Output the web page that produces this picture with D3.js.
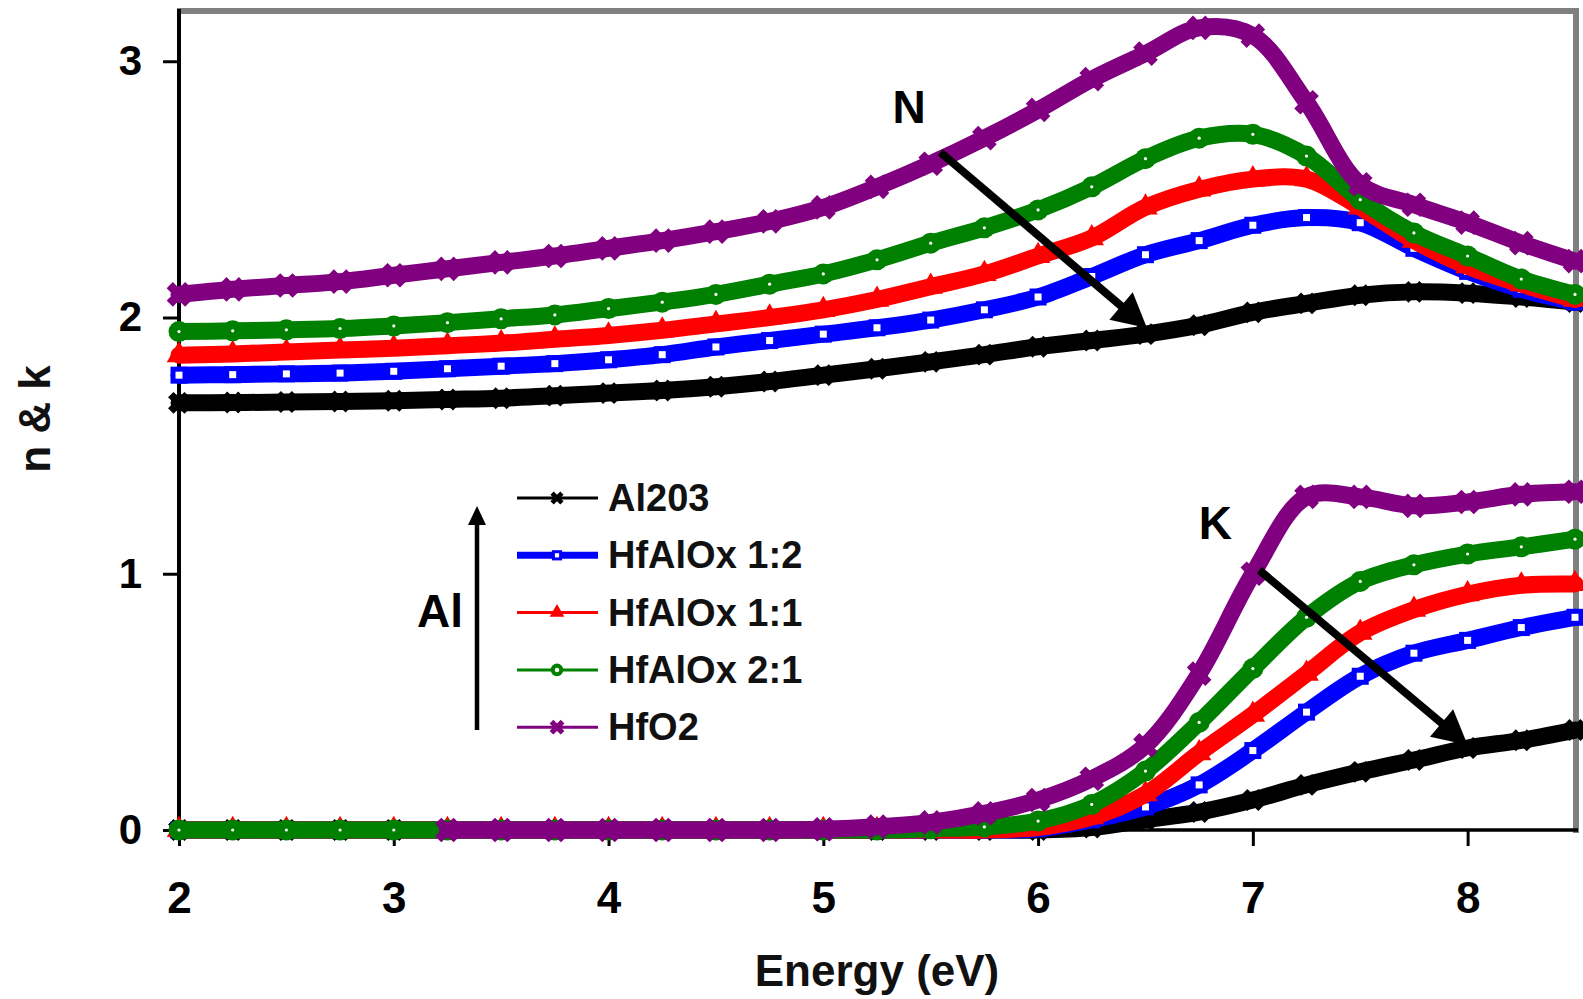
<!DOCTYPE html>
<html><head><meta charset="utf-8">
<script src="https://cdn.jsdelivr.net/npm/d3@7"></script>
<style>
body{margin:0;background:#fff}
svg{display:block}
text{font-family:"Liberation Sans",Arial,sans-serif;}
</style>
</head><body>
<svg id="c" width="1583" height="999"></svg>
<script>
// ---------- data ----------
const energy = [2.0,2.25,2.5,2.75,3.0,3.25,3.5,3.75,4.0,4.25,4.5,4.75,5.0,5.25,5.5,5.75,6.0,6.25,6.5,6.75,7.0,7.25,7.5,7.75,8.0,8.25,8.5];
const seriesNames = ["Al203","HfAlOx 1:2","HfAlOx 1:1","HfAlOx 2:1","HfO2"];
const seriesColors = ["#000000","#0000ff","#ff0000","#008000","#800080"];

// refractive index n
const nAl2O3 = [1.667,1.668,1.670,1.672,1.675,1.680,1.685,1.695,1.705,1.715,1.730,1.750,1.775,1.800,1.827,1.855,1.886,1.910,1.935,1.970,2.020,2.055,2.087,2.100,2.095,2.080,2.060];
const nHf12  = [1.775,1.777,1.780,1.783,1.790,1.800,1.810,1.820,1.835,1.855,1.885,1.910,1.935,1.960,1.990,2.030,2.080,2.160,2.245,2.300,2.360,2.390,2.370,2.270,2.180,2.110,2.060];
const nHf11  = [1.853,1.858,1.865,1.873,1.880,1.890,1.900,1.915,1.930,1.950,1.975,2.000,2.030,2.070,2.120,2.170,2.240,2.310,2.430,2.500,2.540,2.540,2.430,2.300,2.200,2.130,2.070];
const nHf21  = [1.945,1.948,1.952,1.957,1.967,1.980,1.995,2.010,2.035,2.060,2.090,2.130,2.170,2.225,2.290,2.350,2.420,2.510,2.620,2.700,2.715,2.630,2.460,2.330,2.240,2.150,2.090];
const nHfO2  = [2.090,2.110,2.125,2.140,2.165,2.190,2.215,2.240,2.270,2.300,2.335,2.375,2.430,2.510,2.600,2.700,2.810,2.930,3.030,3.130,3.100,2.840,2.520,2.440,2.370,2.290,2.220];

// extinction coefficient k
const kAl2O3 = [0,0,0,0,0,0,0,0,0,0,0,0,0,0,0,0,0,0.01,0.04,0.07,0.117,0.176,0.227,0.273,0.32,0.35,0.39];
const kHf12  = [0,0,0,0,0,0,0,0,0,0,0,0,0,0,0,0,0.005,0.04,0.09,0.176,0.31,0.46,0.60,0.69,0.74,0.79,0.83];
const kHf11  = [0,0,0,0,0,0,0,0,0,0,0,0,0,0,0,0,0.01,0.05,0.14,0.30,0.45,0.61,0.77,0.86,0.92,0.955,0.96];
const kHf21  = [0,0,0,0,0,0,0,0,0,0,0,0,0,0,0.005,0.012,0.035,0.10,0.23,0.42,0.63,0.83,0.97,1.035,1.077,1.105,1.135];
const kHfO2  = [null,null,null,null,null,0,0,0,0,0,0,0,0.003,0.013,0.03,0.065,0.117,0.20,0.33,0.61,1.0,1.30,1.30,1.265,1.28,1.31,1.32];

const xTicks = [2,3,4,5,6,7,8];
const yTicks = [0,1,2,3];

// ---------- chart ----------
const svg = d3.select("#c");
const x = d3.scaleLinear().domain([2, 8.5]).range([179, 1575]);
const y = d3.scaleLinear().domain([0, 3.2]).range([830, 10]);
const FONT = '"Liberation Sans",Arial,sans-serif';

// frame
svg.append("line").attr("x1",177).attr("x2",1579).attr("y1",11).attr("y2",11).attr("stroke","#808080").attr("stroke-width",6);
svg.append("line").attr("x1",1576).attr("x2",1576).attr("y1",8).attr("y2",833).attr("stroke","#808080").attr("stroke-width",6);
svg.append("line").attr("x1",179).attr("x2",179).attr("y1",9).attr("y2",832).attr("stroke","#000").attr("stroke-width",4);
svg.append("line").attr("x1",177).attr("x2",1578).attr("y1",830).attr("y2",830).attr("stroke","#000").attr("stroke-width",3.5);

// axes
const gx = svg.append("g").attr("transform","translate(0,830)")
  .call(d3.axisBottom(x).tickValues(xTicks).tickFormat(d3.format("d")).tickSize(16).tickSizeOuter(0).tickPadding(36));
gx.select(".domain").remove();
gx.selectAll(".tick line").attr("stroke","#000").attr("stroke-width",3);
gx.selectAll(".tick text").attr("font-size",44).attr("font-weight","bold").attr("font-family",FONT).attr("fill","#000");

const gy = svg.append("g").attr("transform","translate(179,0)")
  .call(d3.axisLeft(y).tickValues(yTicks).tickFormat(d3.format("d")).tickSize(16).tickSizeOuter(0).tickPadding(21));
gy.select(".domain").remove();
gy.selectAll(".tick line").attr("stroke","#000").attr("stroke-width",3);
gy.selectAll(".tick text").attr("font-size",42).attr("font-weight","bold").attr("font-family",FONT).attr("fill","#000");

// titles
svg.append("text").attr("x",877).attr("y",986).attr("text-anchor","middle")
  .attr("font-size",44).attr("font-weight","bold").attr("fill","#111").text("Energy (eV)");
svg.append("text").attr("transform","translate(50,419) rotate(-90)").attr("text-anchor","middle")
  .attr("font-size",44).attr("font-weight","bold").attr("fill","#111").text("n & k");

// markers
function drawMarker(g, i, cx, cy, s) {
  const c = seriesColors[i];
  if (i === 0) {
    g.append("path").attr("d", d3.symbol(d3.symbolCross, 300*s*s)()).attr("fill", c)
      .attr("transform", `translate(${cx},${cy}) rotate(45)`);
  } else if (i === 1) {
    const a = 12*s;
    g.append("rect").attr("x",cx-a/2).attr("y",cy-a/2).attr("width",a).attr("height",a)
      .attr("fill","#fff").attr("stroke",c).attr("stroke-width",5*s);
  } else if (i === 2) {
    g.append("path").attr("d", d3.symbol(d3.symbolTriangle, 260*s*s)()).attr("fill", c)
      .attr("transform", `translate(${cx},${cy})`);
  } else if (i === 3) {
    g.append("circle").attr("cx",cx).attr("cy",cy).attr("r",10.5*s).attr("fill",c);
    g.append("circle").attr("cx",cx).attr("cy",cy).attr("r",Math.max(1.6, 3.2*(1-s)+1.6*s)).attr("fill","#fff");
  } else {
    g.append("path").attr("d", d3.symbol(d3.symbolCross, 380*s*s)()).attr("fill", c)
      .attr("transform", `translate(${cx},${cy}) rotate(45)`);
    g.append("rect").attr("x",cx-6*s).attr("y",cy-6*s).attr("width",12*s).attr("height",12*s).attr("fill",c);
  }
}

const nSeries = [nAl2O3, nHf12, nHf11, nHf21, nHfO2];
const kSeries = [kAl2O3, kHf12, kHf11, kHf21, kHfO2];
const line = d3.line().defined(d => d.v != null).x(d => x(d.e)).y(d => y(d.v)).curve(d3.curveCatmullRom.alpha(0.5));

const plot = svg.append("g");
seriesNames.forEach((name, i) => {
  const g = plot.append("g");
  [nSeries[i], kSeries[i]].forEach(arr => {
    const pts = energy.map((e, j) => ({e, v: arr[j]}));
    g.append("path").datum(pts).attr("d", line).attr("fill","none")
      .attr("stroke", seriesColors[i]).attr("stroke-width", 17)
      .attr("stroke-linejoin","round").attr("stroke-linecap","round");
    pts.filter(d => d.v != null).forEach(d => drawMarker(g, i, x(d.e), y(d.v), 1));
  });
});

// legend
const legend = svg.append("g");
seriesNames.forEach((name, i) => {
  const base = 511 + i * 57.3;
  const cy = base - 13;
  legend.append("line").attr("x1",517).attr("x2",598).attr("y1",cy).attr("y2",cy)
    .attr("stroke", seriesColors[i]).attr("stroke-width", i === 1 ? 7 : 3);
  drawMarker(legend, i, 557, cy, 0.6);
  legend.append("text").attr("x",608).attr("y",base).attr("font-size",38).attr("font-weight","bold")
    .attr("fill","#111").text(name);
});

// annotations
function arrow(x1, y1, x2, y2, w, headLen, headHalf) {
  const dx = x2 - x1, dy = y2 - y1, L = Math.hypot(dx, dy), ux = dx / L, uy = dy / L;
  const bx = x2 - ux * headLen, by = y2 - uy * headLen;
  svg.append("line").attr("x1",x1).attr("y1",y1).attr("x2",bx + ux*3).attr("y2",by + uy*3)
    .attr("stroke","#000").attr("stroke-width",w);
  svg.append("path").attr("d", `M${x2},${y2}L${bx - uy*headHalf},${by + ux*headHalf}L${bx + uy*headHalf},${by - ux*headHalf}Z`)
    .attr("fill","#000");
}
arrow(x(5.545), y(2.645), x(6.507), y(1.959), 8, 34, 18);
arrow(x(7.03), y(1.014), x(8.0), y(0.332), 8, 34, 18);
arrow(477, 730, 477, 506, 4.5, 19, 9);

svg.append("text").attr("x", x(5.40)).attr("y", y(2.76)).attr("text-anchor","middle")
  .attr("font-size",46).attr("font-weight","bold").attr("fill","#000").text("N");
svg.append("text").attr("x", x(6.825)).attr("y", y(1.135)).attr("text-anchor","middle")
  .attr("font-size",46).attr("font-weight","bold").attr("fill","#000").text("K");
svg.append("text").attr("x", 440).attr("y", 627).attr("text-anchor","middle")
  .attr("font-size",46).attr("font-weight","bold").attr("fill","#000").text("Al");
</script>
</body></html>
